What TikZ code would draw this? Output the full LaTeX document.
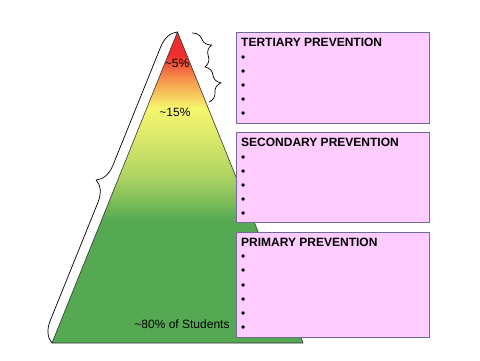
\documentclass[tikz,border=0pt]{standalone}
\usepackage{fontspec}
\setmainfont{Liberation Sans}
\usetikzlibrary{positioning, decorations.pathreplacing}
\definecolor{pyrred}{HTML}{EC2E2E}
\definecolor{pyrorange}{HTML}{F7904A}
\definecolor{pyryellow}{HTML}{F6F66C}
\definecolor{pyrpale}{HTML}{E2EC6C}
\definecolor{pyrlight}{HTML}{B0D464}
\definecolor{pyrmid}{HTML}{80BE5A}
\definecolor{pyrgreen}{HTML}{56A953}
\definecolor{boxpink}{HTML}{FFCCFF}
\definecolor{boxedge}{HTML}{6E6A9A}
\pgfdeclareverticalshading{pyramidshade}{100bp}{color(0bp)=(pyrgreen); color(44.8bp)=(pyrgreen);
  color(48bp)=(pyrmid); color(52bp)=(pyrlight); color(59.2bp)=(pyrpale); color(62.8bp)=(pyryellow);
  color(67.6bp)=(pyrorange); color(71.3bp)=(pyrred); color(100bp)=(pyrred)}

\begin{document}
\begin{tikzpicture}[
    x=1pt, y=-1pt,
    pbox/.style={draw=boxedge, fill=boxpink, line width=1pt, minimum width=193pt, inner sep=0pt},
    boxtext/.style={anchor=north west, inner sep=0pt, align=left, font=\fontsize{12}{14.2}\selectfont},
    pct/.style={font=\fontsize{12}{14}\selectfont, inner sep=0pt},
    brace/.style={decorate, decoration={brace, amplitude=#1}, line width=0.7pt},
  ]
  \useasboundingbox (0,0) rectangle (480,360);

  % ── Pyramid ──
  \coordinate (apex) at (177.5,32);
  \coordinate (bl) at (52,343);
  \coordinate (br) at (303,343);
  \draw[shading=pyramidshade, draw=black!80, line width=0.6pt] (apex) -- (br) -- (bl) -- cycle;

  \node[pct] (tier3) at (177,63.5) {\textasciitilde5\%};
  \node[pct] (tier2) at (175,112) {\textasciitilde15\%};
  \node[pct] (tier1) at (182,324) {\textasciitilde80\% of Students};

  % ── Braces ──
  \coordinate (tb1) at (192,33);
  \coordinate (tb2) at (205,67);
  \coordinate (tb3) at (209,102);
  \draw[brace=20pt] (bl) -- (apex);
  \draw[brace=14pt] (tb1) -- (tb2);
  \draw[brace=14pt] (tb2) -- (tb3);

  % ── Prevention boxes ──
  \node[pbox, minimum height=91pt, anchor=north west] (tert) at (236,32) {};
  \node[pbox, minimum height=90pt, below=8pt of tert] (sec) {};
  \node[pbox, minimum height=105pt, below=8.5pt of sec] (prim) {};

  \node[boxtext, xshift=5pt, yshift=-6.4pt] at (tert.north west)
    {\textbf{TERTIARY PREVENTION}\\•\\•\\•\\•\\•};
  \node[boxtext, xshift=5pt, yshift=-6.4pt] at (sec.north west)
    {\textbf{SECONDARY PREVENTION}\\•\\•\\•\\•\\•};
  \node[boxtext, xshift=5pt, yshift=-6.4pt] at (prim.north west)
    {\textbf{PRIMARY PREVENTION}\\•\\•\\•\\•\\•\\•};

\end{tikzpicture}
\end{document}
